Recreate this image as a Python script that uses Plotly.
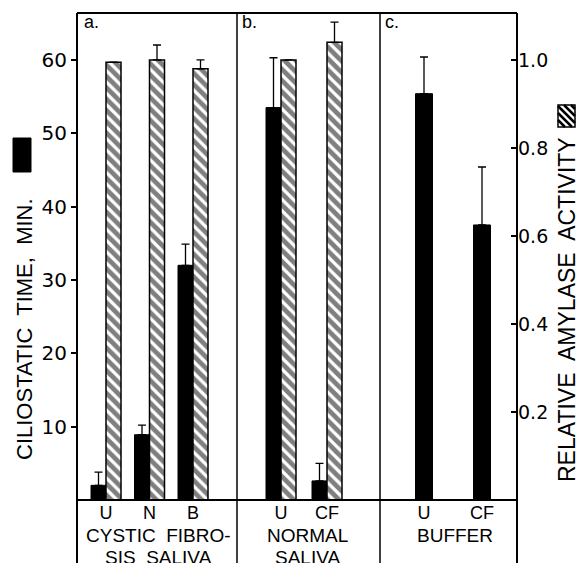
import plotly.graph_objects as go

# ---------------- data ----------------
panel_a_cats = ["U", "N", "B"]
panel_b_cats = ["U", "CF"]
panel_c_cats = ["U", "CF"]

cilio_a = [2.0, 8.9, 32.0]          # ciliostatic time, min (black)
cilio_a_err = [1.8, 1.3, 2.9]
amyl_a = [0.995, 1.0, 0.98]         # relative amylase activity (hatched)
amyl_a_err = [None, 0.034, 0.02]

cilio_b = [53.5, 2.6]
cilio_b_err = [6.8, 2.4]
amyl_b = [1.0, 1.04]
amyl_b_err = [None, 0.046]

cilio_c = [55.4, 37.5]
cilio_c_err = [5.0, 7.9]

left_ticks = [10, 20, 30, 40, 50, 60]
left_tick_text = ["10", "20", "30", "40", "50", "60"]
right_ticks = [0.2, 0.4, 0.6, 0.8, 1.0]
right_tick_text = ["0.2", "0.4", "0.6", "0.8", "1.0"]

panel_letters = ["a.", "b.", "c."]
panel_line1 = ["CYSTIC  FIBRO-", "NORMAL", "BUFFER"]
panel_line2 = ["SIS  SALIVA", "SALIVA", ""]

left_title = "CILIOSTATIC  TIME,  MIN."
right_title = "RELATIVE  AMYLASE  ACTIVITY"

# ---------------- geometry ----------------
W, H = 580, 563
ML, MR, MT, MB = 77, 63, 13, 63
PW, PH = W - ML - MR, H - MT - MB
Y_MAX = 66.4
Y2_MAX = Y_MAX / 60.0


def px_x(px):
    return (px - ML) / PW


def px_y(py):
    return (H - MB - py) / PH


dividers = [ML, 237, 380, W - MR]
# (first group offset within panel px, group spacing px)
panel_geom = [(29, 43.5), (44, 46), (44, 58)]

fig = go.Figure()

err_style = dict(type="data", symmetric=False, color="black", thickness=1.3, width=4)

panels = [
    ("x", panel_a_cats, cilio_a, cilio_a_err, amyl_a, amyl_a_err),
    ("x2", panel_b_cats, cilio_b, cilio_b_err, amyl_b, amyl_b_err),
    ("x3", panel_c_cats, cilio_c, cilio_c_err, None, None),
]

for i, (xa, cats, cil, cerr, am, aerr) in enumerate(panels):
    off, sp = panel_geom[i]
    if am is not None:
        bw = 15.0 / sp
        boff = -bw
    else:
        bw = 17.0 / sp
        boff = -bw / 2
    fig.add_trace(go.Bar(
        x=cats, y=cil, xaxis=xa, yaxis="y",
        width=bw, offset=boff,
        marker=dict(color="black", line=dict(color="black", width=1)),
        error_y=dict(array=cerr, arrayminus=[0] * len(cerr), **err_style),
        showlegend=False, hoverinfo="skip",
    ))
    if am is not None:
        fig.add_trace(go.Bar(
            x=cats, y=am, xaxis=xa, yaxis="y2",
            width=15.0 / sp, offset=0,
            marker=dict(color="white", line=dict(color="black", width=1.5),
                        pattern=dict(shape="\\", fgcolor="black", bgcolor="white",
                                     size=8, solidity=0.6)),
            error_y=dict(array=aerr, arrayminus=[0] * len(aerr), **err_style),
            showlegend=False, hoverinfo="skip",
        ))

xaxis_common = dict(showgrid=False, zeroline=False, showline=False, ticks="",
                    tickfont=dict(family="Liberation Sans", size=18, color="black"),
                    anchor="y", fixedrange=True)
layout_x = {}
names = ["xaxis", "xaxis2", "xaxis3"]
for i, nm in enumerate(names):
    d0 = px_x(dividers[i])
    d1 = px_x(dividers[i + 1])
    off, sp = panel_geom[i]
    width_px = dividers[i + 1] - dividers[i]
    rng = [-off / sp, (width_px - off) / sp]
    layout_x[nm] = dict(domain=[d0, d1], range=rng, type="category", **xaxis_common)

fig.update_layout(
    width=W, height=H,
    margin=dict(l=ML, r=MR, t=MT, b=MB, pad=0),
    paper_bgcolor="white", plot_bgcolor="white",
    font=dict(family="Liberation Sans", color="black"),
    barmode="group",
    yaxis=dict(range=[0, Y_MAX], tickvals=left_ticks, ticktext=left_tick_text,
               ticks="outside", ticklen=5, tickwidth=1.5, tickcolor="black",
               tickfont=dict(family="DejaVu Sans", size=20, color="black"),
               showgrid=False, zeroline=False, showline=False, anchor="x"),
    yaxis2=dict(range=[0, Y2_MAX], tickvals=right_ticks, ticktext=right_tick_text,
                overlaying="y", side="right", anchor="x3",
                ticks="inside", ticklen=6, tickwidth=1.5, tickcolor="black",
                tickfont=dict(family="DejaVu Sans", size=19, color="black"),
                showgrid=False, zeroline=False, showline=False),
    **layout_x,
)

# ---------------- frame ----------------
shapes = []
line_bot = px_y(H + 5)
shapes.append(dict(type="line", xref="paper", yref="paper", x0=0, x1=1, y0=1, y1=1,
                   line=dict(color="black", width=2)))
shapes.append(dict(type="line", xref="paper", yref="paper", x0=0, x1=1, y0=0, y1=0,
                   line=dict(color="black", width=2)))
for j, dx in enumerate(dividers):
    shapes.append(dict(type="line", xref="paper", yref="paper",
                       x0=px_x(dx), x1=px_x(dx), y0=1, y1=line_bot,
                       line=dict(color="black", width=2 if j in (0, 3) else 1.5)))

# legend key: black block next to left title
shapes.append(dict(type="rect", xref="paper", yref="paper",
                   x0=px_x(13), x1=px_x(31), y0=px_y(172), y1=px_y(138),
                   fillcolor="black", line=dict(color="black", width=1)))

# legend key: hatched block next to right title
hx0, hx1, hy0, hy1 = 558, 575, 105, 127
path = []
c = hy0 - hx1 - 10
while c < hy1 - hx0 + 10:
    pts = []
    for x in (hx0, hx1):
        y = x + c
        if hy0 <= y <= hy1:
            pts.append((x, y))
    for y in (hy0, hy1):
        x = y - c
        if hx0 <= x <= hx1:
            pts.append((x, y))
    if len(pts) >= 2:
        pts.sort()
        (ax, ay), (bx, by) = pts[0], pts[-1]
        path.append("M%.5f,%.5f L%.5f,%.5f" % (px_x(ax), px_y(ay), px_x(bx), px_y(by)))
    c += 7
shapes.append(dict(type="path", xref="paper", yref="paper", path=" ".join(path),
                   line=dict(color="black", width=2.5)))
shapes.append(dict(type="rect", xref="paper", yref="paper",
                   x0=px_x(hx0), x1=px_x(hx1), y0=px_y(hy1), y1=px_y(hy0),
                   line=dict(color="black", width=1.5)))

fig.update_layout(shapes=shapes)

# ---------------- text ----------------
ann = []
letter_px = [82, 240, 383]
for lt, lx in zip(panel_letters, letter_px):
    ann.append(dict(text=lt, xref="paper", yref="paper", x=px_x(lx), y=px_y(22),
                    xanchor="left", yanchor="middle", showarrow=False,
                    font=dict(family="Liberation Sans", size=18, color="black")))

label_cx = [158, 307, 455]
for t1, t2, cx in zip(panel_line1, panel_line2, label_cx):
    ann.append(dict(text=t1, xref="paper", yref="paper", x=px_x(cx), y=px_y(535),
                    xanchor="center", yanchor="middle", showarrow=False,
                    font=dict(family="Liberation Sans", size=19, color="black")))
    if t2:
        ann.append(dict(text=t2, xref="paper", yref="paper", x=px_x(cx), y=px_y(557),
                        xanchor="center", yanchor="middle", showarrow=False,
                        font=dict(family="Liberation Sans", size=19, color="black")))

ann.append(dict(text=left_title, xref="paper", yref="paper", x=px_x(24), y=px_y(329),
                xanchor="center", yanchor="middle", textangle=-90, showarrow=False,
                font=dict(family="Liberation Sans", size=22, color="black")))
ann.append(dict(text=right_title, xref="paper", yref="paper", x=px_x(567), y=px_y(310),
                xanchor="center", yanchor="middle", textangle=-90, showarrow=False,
                font=dict(family="Liberation Sans", size=23, color="black")))

fig.update_layout(annotations=ann)

fig.write_html("out.html", config={"displayModeBar": False},
               post_script="document.body.style.margin='0px';")
